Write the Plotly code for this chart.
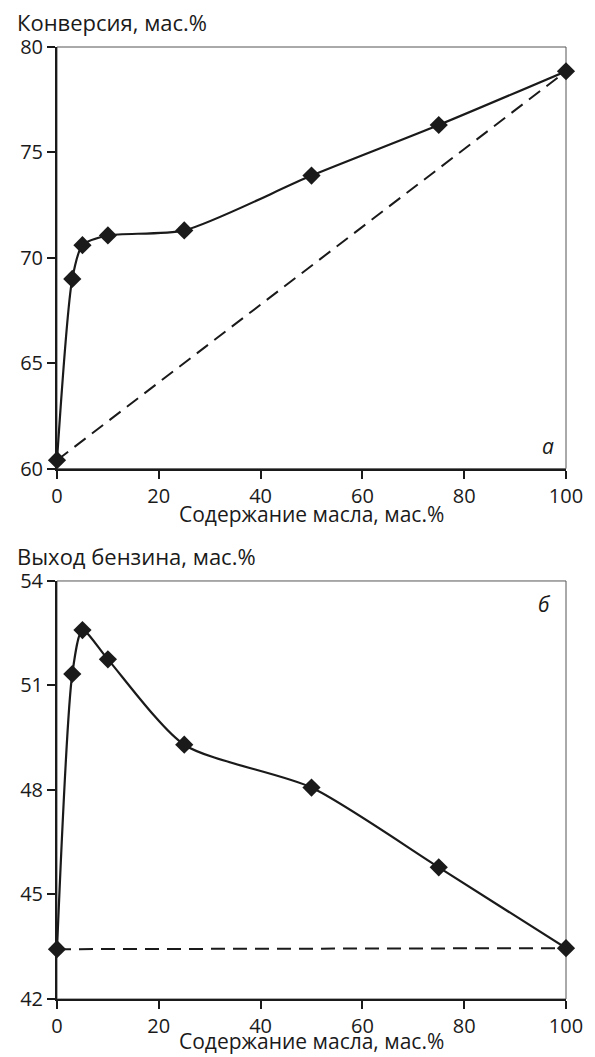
import plotly.graph_objects as go

oil = [0, 3, 5, 10, 25, 50, 75, 100]
conversion = [60.4, 69.0, 70.6, 71.06, 71.3, 73.9, 76.3, 78.85]
gasoline = [43.43, 51.33, 52.59, 51.75, 49.3, 48.07, 45.78, 43.46]
add_x = [0, 100]
conv_additive = [60.4, 78.85]
gas_additive = [43.43, 43.46]

x_ticks = [0, 20, 40, 60, 80, 100]
conv_ticks = [60, 65, 70, 75, 80]
gas_ticks = [42, 45, 48, 51, 54]

FONT = "Open Sans"
INK = "#1a1a1a"

fig = go.Figure()

for xa, ya, yv, add in [("x", "y", conversion, conv_additive), ("x2", "y2", gasoline, gas_additive)]:
    fig.add_trace(go.Scatter(x=add_x, y=add, mode="lines", xaxis=xa, yaxis=ya,
                             line=dict(color=INK, width=2, dash="14px,8px"),
                             showlegend=False, cliponaxis=False))
    fig.add_trace(go.Scatter(x=oil, y=yv, mode="lines+markers", xaxis=xa, yaxis=ya,
                             line=dict(color=INK, width=2.2, shape="spline", smoothing=0.7),
                             marker=dict(symbol="diamond", size=14, color=INK),
                             showlegend=False, cliponaxis=False))

axis_common = dict(showgrid=False, zeroline=False, showline=True, linecolor=INK,
                   linewidth=2, ticks="outside", ticklen=8, tickwidth=2, tickcolor=INK,
                   tickfont=dict(family=FONT, size=20, color=INK))

fig.update_layout(
    xaxis=dict(range=[0, 100], tickvals=x_ticks, anchor="y", domain=[0, 1], **axis_common),
    yaxis=dict(range=[60, 80], tickvals=conv_ticks, anchor="x", domain=[0.5571, 1], **axis_common),
    xaxis2=dict(range=[0, 100], tickvals=x_ticks, anchor="y2", domain=[0, 1], **axis_common),
    yaxis2=dict(range=[42, 54], tickvals=gas_ticks, anchor="x2", domain=[0, 0.4391], **axis_common),
)

for xref, yref in [("x domain", "y domain"), ("x2 domain", "y2 domain")]:
    fig.add_shape(type="rect", xref=xref, yref=yref, x0=0, x1=1, y0=0, y1=1,
                  line=dict(color="#555555", width=1), layer="below")

ann_font = dict(family=FONT, size=21, color=INK)
for yref, txt in [("y domain", "Конверсия, мас.%"), ("y2 domain", "Выход бензина, мас.%")]:
    fig.add_annotation(text=txt, xref="paper", yref=yref, x=-0.083, y=1.0,
                       xanchor="left", yanchor="middle", yshift=25,
                       showarrow=False, font=dict(family=FONT, size=22, color=INK))
for xref, yref, shift in [("x domain", "y domain", -45), ("x2 domain", "y2 domain", -42)]:
    fig.add_annotation(text="Содержание масла, мас.%", xref=xref, yref=yref, x=0.5, y=0,
                       xanchor="center", yanchor="middle", yshift=shift,
                       showarrow=False, font=ann_font)
fig.add_annotation(text="<i>а</i>", xref="x domain", yref="y domain", x=0.965, y=0.053,
                   xanchor="center", yanchor="middle", showarrow=False, font=ann_font)
fig.add_annotation(text="<i>б</i>", xref="x2 domain", yref="y2 domain", x=0.957, y=0.945,
                   xanchor="center", yanchor="middle", showarrow=False, font=ann_font)

# page body has an 8px margin, so the figure is sized to fit the 595x1057 window
fig.update_layout(width=587, height=1049, margin=dict(l=45, r=23, t=39, b=58),
                  plot_bgcolor="white", paper_bgcolor="white",
                  font=dict(family=FONT, color=INK))

fig.write_html("out.html")
